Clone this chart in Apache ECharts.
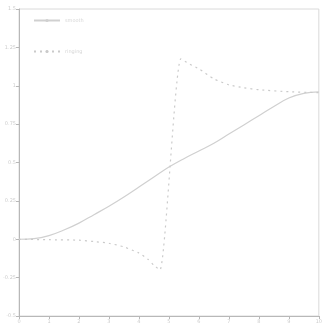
<!DOCTYPE html>
<html>
<head>
<meta charset="utf-8">
<script src="https://cdn.jsdelivr.net/npm/echarts@6/dist/echarts.min.js"></script>
<style>
  html, body { margin: 0; padding: 0; background: #fff; }
  #chart { width: 325px; height: 331px; }
</style>
</head>
<body>
<div id="chart"></div>
<script>
// Smooth response and its ringing counterpart, sampled on x in [0, 10]
const seriesNames = ['smooth', 'ringing'];
const smoothX = [0, 0.5, 1, 1.5, 2, 2.5, 3, 3.5, 4, 4.5, 5, 5.5, 6, 6.5, 7, 7.5, 8, 8.5, 9, 9.5, 10];
const smoothY = [0, 0.004, 0.024, 0.06, 0.105, 0.16, 0.215, 0.275, 0.34, 0.405, 0.47, 0.525, 0.575, 0.625, 0.685, 0.745, 0.805, 0.865, 0.92, 0.95, 0.96];
const ringX = [0, 1, 2, 2.5, 3, 3.5, 4, 4.3, 4.5, 4.7, 5.4, 5.7, 6, 6.5, 7, 7.5, 8, 9, 10];
const ringY = [0, -0.003, -0.006, -0.015, -0.026, -0.05, -0.09, -0.13, -0.17, -0.2, 1.175, 1.14, 1.11, 1.045, 1.006, 0.987, 0.974, 0.961, 0.955];
const xTicks = [0, 1, 2, 3, 4, 5, 6, 7, 8, 9, 10];
const yTicks = [-0.5, -0.25, 0, 0.25, 0.5, 0.75, 1, 1.25, 1.5];

const pair = (xs, ys) => xs.map((x, i) => [x, ys[i]]);

const chart = echarts.init(document.getElementById('chart'));
chart.setOption({
  animation: false,
  backgroundColor: '#fff',
  legend: {
    left: 28, top: 13, orient: 'vertical', itemGap: 26,
    itemWidth: 26, itemHeight: 4,
    textStyle: { fontSize: 5, color: '#d6d6d6', fontFamily: 'DejaVu Sans' },
    data: seriesNames
  },
  grid: {
    left: 19, right: 2, top: 9, bottom: 15,
    show: true, borderColor: '#dadada', borderWidth: 1
  },
  xAxis: {
    type: 'value', min: 0, max: 10, interval: 1,
    axisLine: { onZero: false, lineStyle: { color: '#b8b8b8' } },
    axisTick: { length: 3, lineStyle: { color: '#b8b8b8' } },
    splitLine: { show: false },
    axisLabel: { fontSize: 5, color: '#cdcdcd', margin: 3, fontFamily: 'DejaVu Sans',
      formatter: v => xTicks.includes(v) ? String(v) : '' }
  },
  yAxis: {
    type: 'value', min: -0.5, max: 1.5, interval: 0.25,
    axisLine: { show: true, onZero: false, lineStyle: { color: '#b8b8b8' } },
    axisTick: { show: true, length: 3, lineStyle: { color: '#b8b8b8' } },
    splitLine: { show: false },
    axisLabel: { fontSize: 5, color: '#cdcdcd', margin: 3, fontFamily: 'DejaVu Sans',
      formatter: v => yTicks.includes(v) ? String(v) : '' }
  },
  series: [
    {
      name: seriesNames[0], type: 'line', data: pair(smoothX, smoothY),
      smooth: 0.4, symbol: 'none',
      lineStyle: { color: '#d0d0d0', width: 1.2 },
      itemStyle: { color: '#d0d0d0' }
    },
    {
      name: seriesNames[1], type: 'line', data: pair(ringX, ringY),
      smooth: 0.2, symbol: 'none',
      lineStyle: { color: '#cacaca', width: 1.2, type: [2, 4] },
      itemStyle: { color: '#cacaca' }
    }
  ]
});
</script>
</body>
</html>
